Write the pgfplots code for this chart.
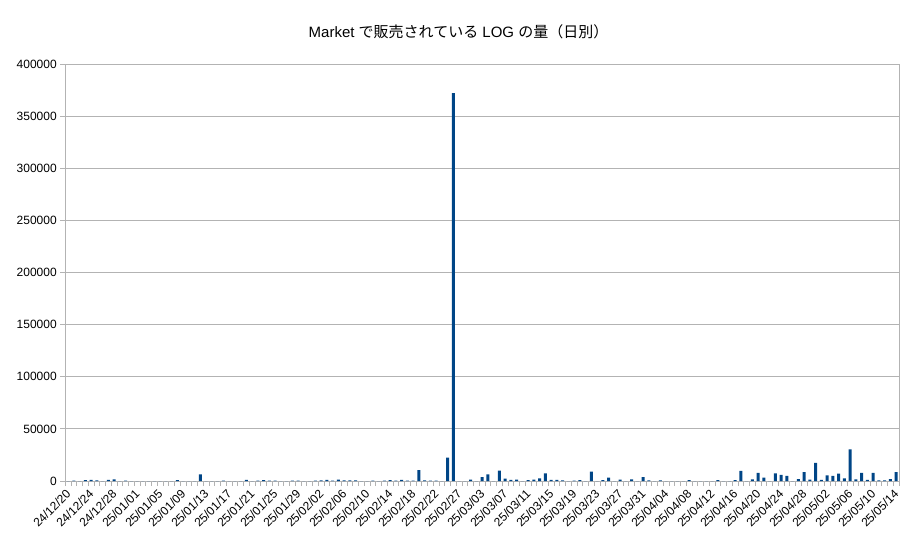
\documentclass[border=0pt]{standalone}
\usepackage{fontspec}
\setmainfont{Liberation Sans}
\newfontfamily\cjk{Noto Sans CJK JP}
\usepackage{pgfplots}
\usepackage{pgfplotstable}
\pgfplotsset{compat=1.18}
\usetikzlibrary{calc}
\definecolor{barblue}{HTML}{004586}
\definecolor{gridgray}{HTML}{B3B3B3}
\pgfplotstableread{
x y
0 0
1 300
2 0
3 800
4 1000
5 500
6 0
7 1000
8 1600
9 0
10 300
11 0
12 0
13 0
14 0
15 0
16 0
17 0
18 0
19 900
20 0
21 0
22 0
23 6400
24 0
25 0
26 0
27 300
28 0
29 0
30 0
31 1000
32 0
33 300
34 800
35 400
36 400
37 0
38 0
39 400
40 300
41 0
42 0
43 300
44 600
45 1000
46 300
47 1200
48 500
49 600
50 600
51 0
52 0
53 400
54 0
55 400
56 900
57 300
58 1000
59 300
60 300
61 10500
62 600
63 300
64 300
65 0
66 22400
67 372000
68 0
69 0
70 1300
71 0
72 3800
73 6400
74 0
75 9900
76 2200
77 1000
78 1300
79 0
80 900
81 1300
82 2600
83 7400
84 1000
85 1000
86 600
87 0
88 300
89 800
90 0
91 9000
92 0
93 800
94 3200
95 0
96 1300
97 0
98 1500
99 0
100 3800
101 600
102 0
103 500
104 0
105 0
106 0
107 0
108 900
109 0
110 0
111 0
112 0
113 900
114 0
115 0
116 900
117 9600
118 0
119 1600
120 7700
121 3200
122 0
123 7400
124 5800
125 4800
126 0
127 1900
128 8600
129 1300
130 17300
131 1000
132 5400
133 4800
134 7000
135 2600
136 30400
137 1600
138 7700
139 1000
140 7700
141 700
142 700
143 1900
144 8600
}\datatable
\begin{document}
\begin{tikzpicture}
\begin{axis}[
  name=ax,
  scale only axis,
  width=833.7pt, height=417pt,
  xmin=-0.5, xmax=144.5,
  ymin=0, ymax=400000,
  ybar, bar width=0.5,
  axis line style={gridgray},
  tick style={gridgray, line width=0.8pt},
  tick align=outside,
  major tick length=0pt,
  minor tick length=5pt,
  xtick pos=bottom, ytick pos=left,
  xtick={0,4,...,144},
  xticklabels={24/12/20,24/12/24,24/12/28,25/01/01,25/01/05,25/01/09,25/01/13,25/01/17,25/01/21,25/01/25,25/01/29,25/02/02,25/02/06,25/02/10,25/02/14,25/02/18,25/02/22,25/02/27,25/03/03,25/03/07,25/03/11,25/03/15,25/03/19,25/03/23,25/03/27,25/03/31,25/04/04,25/04/08,25/04/12,25/04/16,25/04/20,25/04/24,25/04/28,25/05/02,25/05/06,25/05/10,25/05/14},
  minor xtick={-0.5,0.5,...,144.5},
  xticklabel style={font=\fontsize{12}{14}\selectfont, inner sep=1pt, xshift=-3pt, yshift=-6pt, rotate=45, anchor=north east},
  ytick={0,50000,...,400000},
  minor ytick={0,50000,...,400000},
  scaled y ticks=false,
  /pgf/number format/fixed,
  /pgf/number format/1000 sep={},
  /pgf/number format/assume math mode=true,
  yticklabel style={font=\fontsize{12}{14}\selectfont, xshift=-5pt},
  ymajorgrids,
  grid style={gridgray, line width=0.8pt},
]
\addplot[fill=barblue, draw=none] table[x=x, y=y] {\datatable};
\end{axis}
\node[font=\fontsize{15}{18}\selectfont] at ($(ax.north west)+(393.2pt,32pt)$) {Market {\cjk で販売されている} LOG {\cjk の量（日別）}};
\pgfresetboundingbox
\useasboundingbox ($(ax.south west)+(-65.3pt,-62pt)$) rectangle ($(ax.north east)+(21pt,64pt)$);
\end{tikzpicture}
\end{document}
